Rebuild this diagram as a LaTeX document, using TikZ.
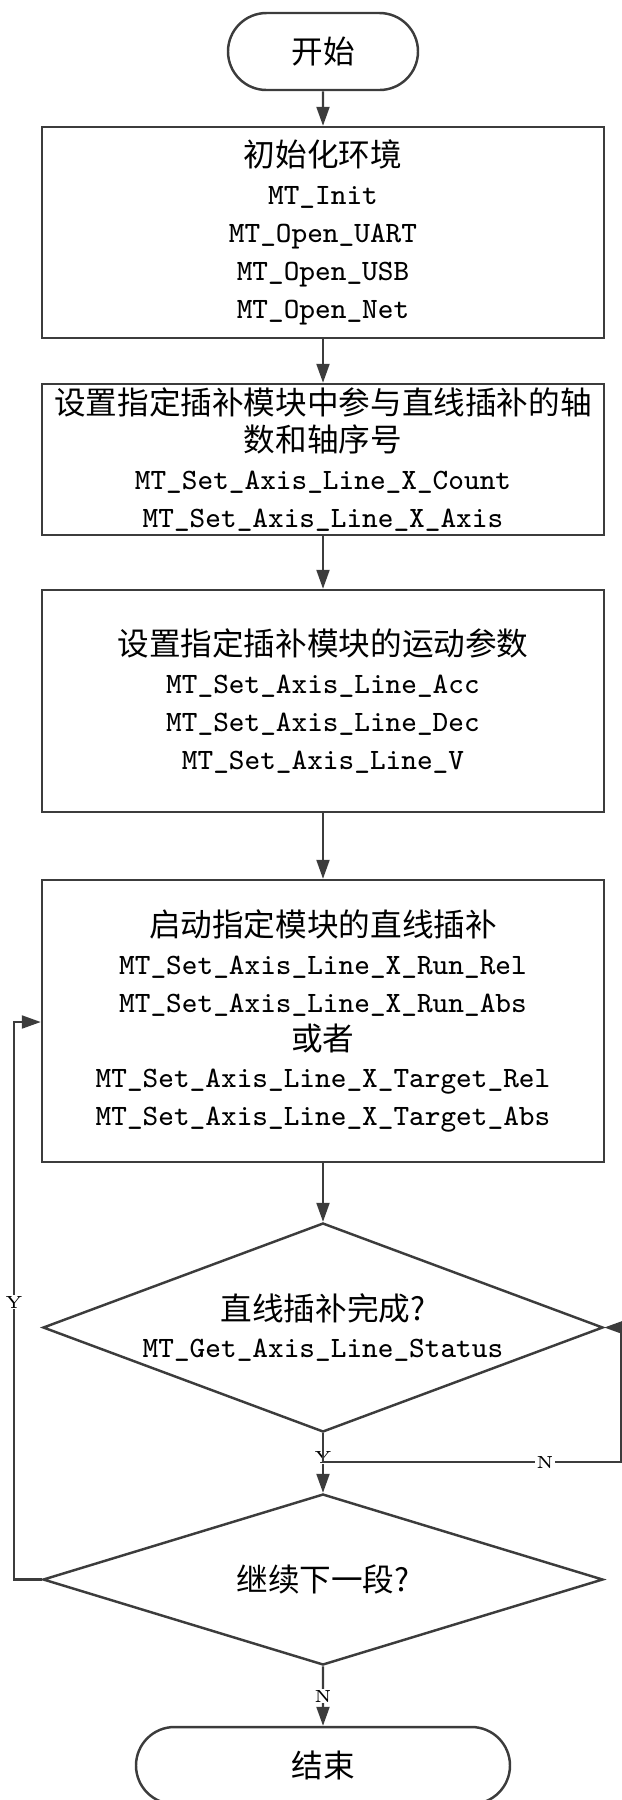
\documentclass[tikz,border=0pt]{standalone}
\usepackage{fontspec}
\newfontfamily\cjkfont{Noto Sans CJK SC}
\usepackage{tikz}
\usetikzlibrary{positioning, arrows.meta, shapes.geometric, shapes.misc}
\definecolor{edgegray}{RGB}{60, 60, 60}
\newcommand{\apiname}[1]{{\ttfamily\fontsize{8.4}{10.8}\selectfont #1}}

\begin{document}
\begin{tikzpicture}[
  line/.style={draw=edgegray, line width=0.6pt},
  arrow/.style={line, -{Triangle[length=5.4pt, width=3.7pt]}},
  terminal/.style={rounded rectangle, draw=edgegray, line width=0.7pt, minimum height=0.77cm, inner sep=0pt, font=\cjkfont\fontsize{9}{10.8}\selectfont},
  process/.style={rectangle, draw=edgegray, line width=0.7pt, minimum width=5.62cm, inner sep=0pt, align=center, font=\cjkfont\fontsize{9}{10.8}\selectfont},
  decision/.style={diamond, draw=edgegray, line width=0.7pt, aspect=2.6, inner sep=0pt, align=center, font=\cjkfont\fontsize{9}{10.8}\selectfont},
  yn/.style={fill=white, inner sep=0.4pt, font=\fontsize{5}{6}\selectfont}
]
  \useasboundingbox (0,0) rectangle (6.22,-18);
  % steps
  \node[terminal, minimum width=1.9cm] (start) at (3.23,-0.515) {开始};
  \node[process, minimum height=2.11cm] (init) at (3.23,-2.325)
    {初始化环境\\\apiname{MT\_Init}\\\apiname{MT\_Open\_UART}\\\apiname{MT\_Open\_USB}\\\apiname{MT\_Open\_Net}};
  \node[process, minimum height=1.51cm] (axes) at (3.23,-4.595)
    {设置指定插补模块中参与直线插补的轴\\数和轴序号\\\apiname{MT\_Set\_Axis\_Line\_X\_Count}\\\apiname{MT\_Set\_Axis\_Line\_X\_Axis}};
  \node[process, minimum height=2.22cm] (param) at (3.23,-7.01)
    {设置指定插补模块的运动参数\\\apiname{MT\_Set\_Axis\_Line\_Acc}\\\apiname{MT\_Set\_Axis\_Line\_Dec}\\\apiname{MT\_Set\_Axis\_Line\_V}};
  \node[process, minimum height=2.82cm] (run) at (3.23,-10.21)
    {启动指定模块的直线插补\\\apiname{MT\_Set\_Axis\_Line\_X\_Run\_Rel}\\\apiname{MT\_Set\_Axis\_Line\_X\_Run\_Abs}\\或者\\\apiname{MT\_Set\_Axis\_Line\_X\_Target\_Rel}\\\apiname{MT\_Set\_Axis\_Line\_X\_Target\_Abs}};
  \node[decision, minimum width=5.6cm, minimum height=2.09cm] (done) at (3.23,-13.275)
    {直线插补完成?\\\apiname{MT\_Get\_Axis\_Line\_Status}};
  \node[decision, minimum width=5.6cm, minimum height=1.71cm] (next) at (3.23,-15.795) {继续下一段?};
  \node[terminal, minimum width=3.74cm] (stop) at (3.23,-17.655) {结束};

  % main flow
  \draw[arrow] (start) -- (init);
  \draw[arrow] (init) -- (axes);
  \draw[arrow] (axes) -- (param);
  \draw[arrow] (param) -- (run);
  \draw[arrow] (run) -- (done);
  \draw[arrow] (done) -- node[yn, pos=0.4] {Y} (next);
  \draw[arrow] (next) -- node[yn, pos=0.5] {N} (stop);

  % not finished: poll again
  \coordinate (nturn) at (6.21,-14.62);
  \draw[arrow] (done.south) |- (nturn) |- (done.east);
  \node[yn] (nmark) at (5.45,-14.62) {N};

  % next segment: back to start of run
  \coordinate (yturn) at (0.14,-10.22);
  \draw[arrow] (next.west) -| (yturn) -- (run.west |- yturn);
  \node[yn] (ymark) at (0.14,-13.02) {Y};
\end{tikzpicture}
\end{document}
